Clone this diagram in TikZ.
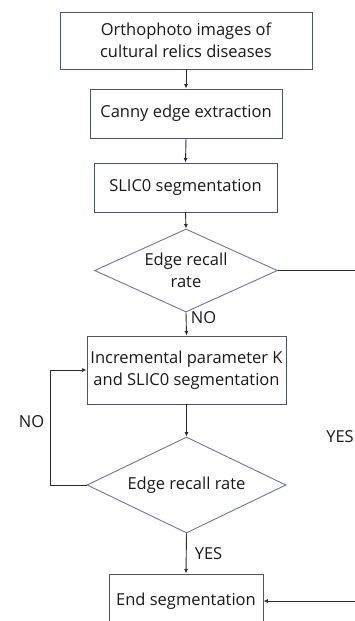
\documentclass[tikz,border=0pt]{standalone}
\usepackage{fontspec}
\setmainfont{Open Sans}
\usetikzlibrary{shapes.geometric,arrows.meta}

\definecolor{boxline}{RGB}{78,82,118}
\definecolor{diaml}{RGB}{112,117,160}
\definecolor{conn}{RGB}{45,45,45}
\definecolor{txt}{RGB}{25,25,25}

\tikzset{
  x=1pt, y=-1pt,
  every node/.style={font=\fontsize{16.5}{22.5}\selectfont, text=txt},
  procbox/.style={draw=boxline, line width=0.9pt, rectangle, inner sep=0pt, align=center},
  decide/.style={draw=diaml, line width=0.9pt, diamond, shape aspect=2, inner sep=0pt, align=center},
  flow/.style={draw=conn, line width=0.9pt, -{Latex[length=4.5pt,width=4pt]}},
  tag/.style={inner sep=0pt}
}

\begin{document}
\begin{tikzpicture}
\useasboundingbox (0,0) rectangle (355,621);
\clip (0,0) rectangle (355,621);

% process steps
\node[procbox, minimum width=252pt, minimum height=57pt] (orth) at (186,40.5)
  {Orthophoto images of\\cultural relics diseases};
\node[procbox, minimum width=192pt, minimum height=49pt] (canny) at (186,113.5)
  {Canny edge extraction};
\node[procbox, minimum width=183pt, minimum height=49pt] (slic) at (185.5,187.5)
  {SLIC0 segmentation};
\node[decide, minimum width=183pt, minimum height=83pt] (rec1) at (186,270.5)
  {Edge recall\\rate};
\node[procbox, minimum width=199pt, minimum height=68pt] (incr) at (186.5,370)
  {Incremental parameter K\\and SLIC0 segmentation};
\node[decide, minimum width=199pt, minimum height=96pt] (rec2) at (186.5,485)
  {Edge recall rate};
\node[procbox, minimum width=154pt, minimum height=54pt] (fin) at (186,601)
  {End segmentation};

% labels
\node[tag] (no1) at (203.5,318) {NO};
\node[tag] (no2) at (31.5,422) {NO};
\node[tag] (yes1) at (208.5,554) {YES};
\node[tag, anchor=east] (yes2) at (354,437) {YES};

% connectors
\draw[flow] (orth.south) -- (canny.north);
\draw[flow] (canny.south) -- (slic.north);
\draw[flow] (slic.south) -- (rec1.north);
\draw[flow] (rec1.south) -- (incr.north);
\draw[flow] (incr.south) -- (rec2.north);
\draw[flow] (rec2.south) -- (fin.north);
\coordinate (loopx) at (50,0);
\draw[flow] (rec2.west) -- (rec2.west -| loopx) -- (incr.west -| loopx) -- (incr.west);
\coordinate (sidex) at (362,0);
\draw[flow] (rec1.east) -- (rec1.east -| sidex) -- (fin.east -| sidex) -- (fin.east);
\end{tikzpicture}
\end{document}
